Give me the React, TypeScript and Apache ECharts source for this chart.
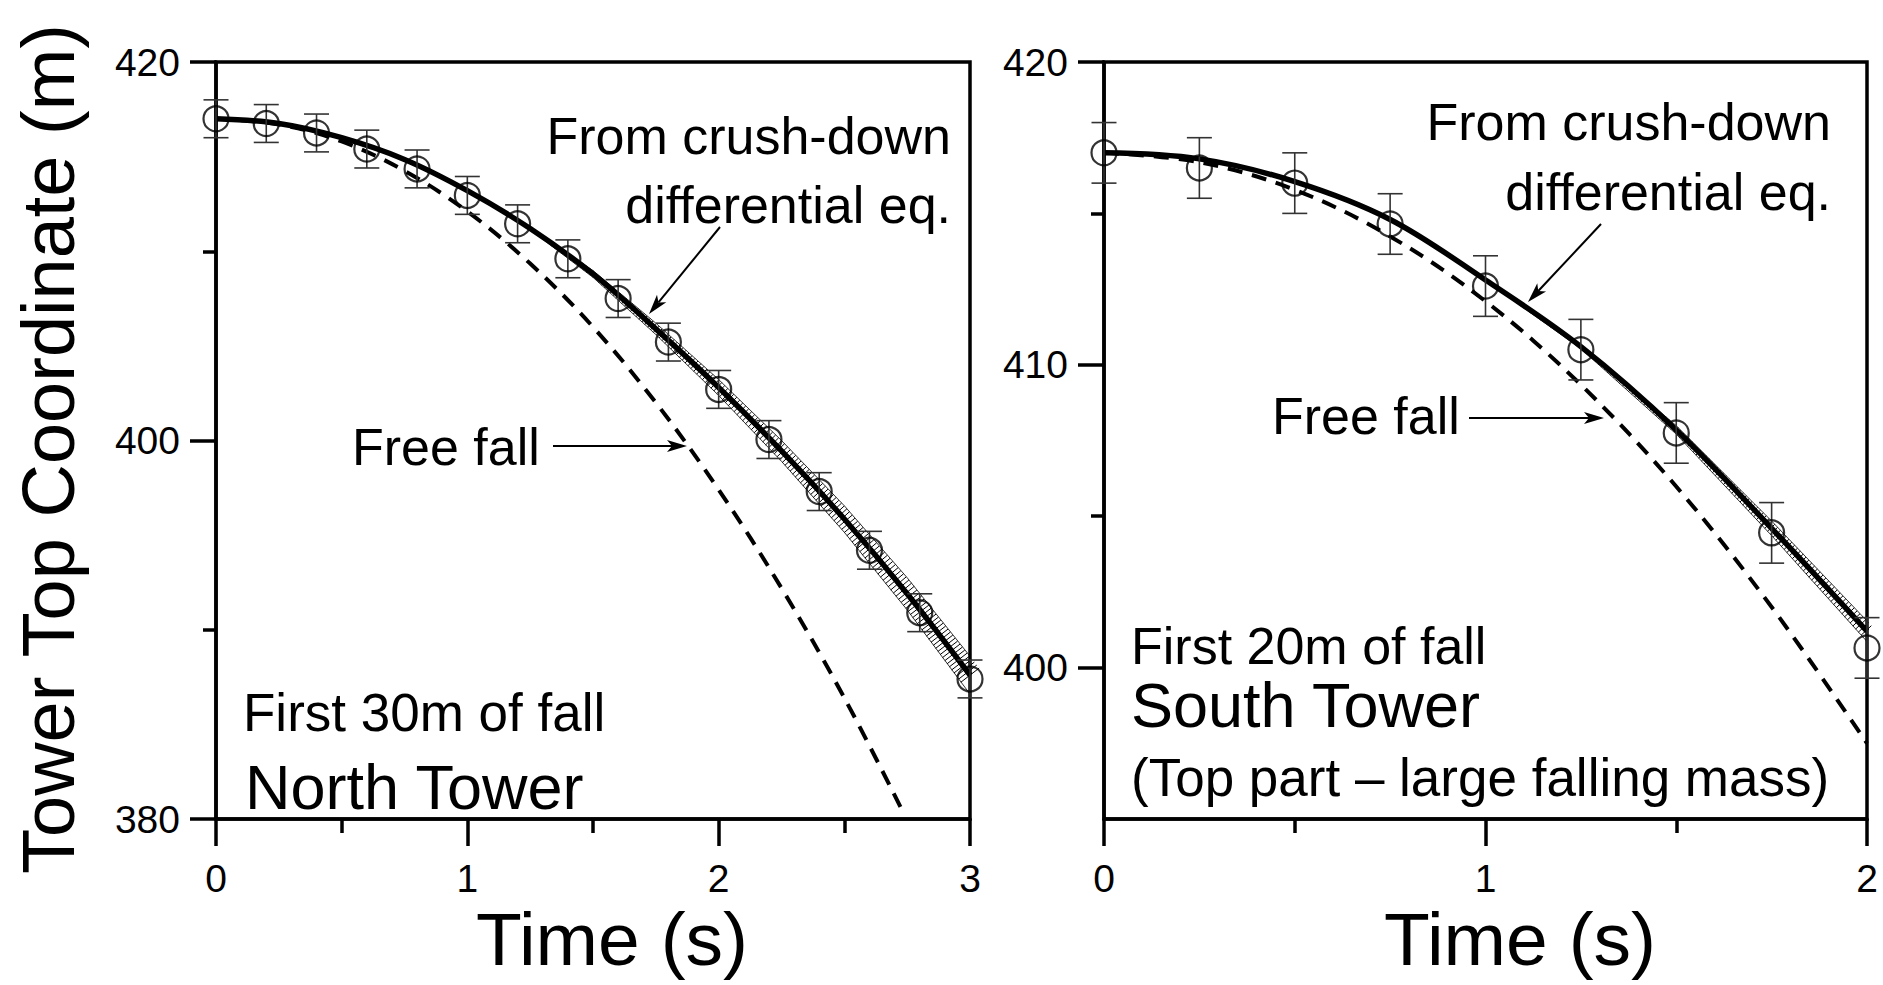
import React, { useEffect, useRef } from "react";
import * as echarts from "echarts";

const FONT = '"Liberation Sans", Arial, Helvetica, sans-serif';

// ---------------- North Tower (left panel) ----------------
const NORTH_T = [0, 0.2, 0.4, 0.6, 0.8, 1.0, 1.2, 1.4, 1.6, 1.8, 2.0, 2.2, 2.4, 2.6, 2.8, 3.0];
const NORTH_OBS = [417.0, 416.75, 416.25, 415.4, 414.35, 412.95, 411.45, 409.6, 407.5, 405.2, 402.7, 400.05, 397.3, 394.2, 390.9, 387.4];
const NORTH_ERR = [1, 1, 1, 1, 1, 1, 1, 1, 1, 1, 1, 1, 1, 1, 1, 1];
const NORTH_MODEL_T = [0, 0.25, 0.5, 0.75, 1.0, 1.25, 1.5, 1.75, 2.0, 2.25, 2.5, 2.75, 3.0];
const NORTH_MODEL = [417.0, 416.75, 416.0, 414.85, 413.2, 411.2, 408.8, 405.9, 402.8, 399.45, 395.85, 391.9, 387.6];
const NORTH_FREE_T = [0, 0.25, 0.5, 0.75, 1.0, 1.25, 1.5, 1.75, 2.0, 2.25, 2.5, 2.74];
const NORTH_FREE = [417.0, 416.7, 415.8, 414.25, 412.1, 409.35, 406.0, 402.0, 397.4, 392.2, 386.4, 380.2];
const NORTH_BAND_T = [1.25, 1.5, 1.75, 2.0, 2.25, 2.5, 2.75, 3.0];
const NORTH_BAND_LO = [411.14, 408.62, 405.6, 402.38, 398.9, 395.15, 391.05, 386.6];
const NORTH_BAND_HI = [411.26, 408.98, 406.2, 403.22, 400.0, 396.55, 392.75, 388.6];

// ---------------- South Tower (right panel) ----------------
const SOUTH_T = [0, 0.25, 0.5, 0.75, 1.0, 1.25, 1.5, 1.75, 2.0];
const SOUTH_OBS = [417.0, 416.5, 416.0, 414.65, 412.6, 410.5, 407.75, 404.45, 400.65];
const SOUTH_ERR = [1, 1, 1, 1, 1, 1, 1, 1, 1];
const SOUTH_MODEL_T = [0, 0.25, 0.5, 0.75, 1.0, 1.25, 1.5, 1.75, 2.0];
const SOUTH_MODEL = [417.0, 416.8, 416.05, 414.8, 412.8, 410.6, 407.85, 404.6, 401.2];
const SOUTH_FREE_T = [0, 0.25, 0.5, 0.75, 1.0, 1.25, 1.5, 1.75, 2.0];
const SOUTH_FREE = [417.0, 416.69, 415.78, 414.24, 412.1, 409.34, 405.98, 402.0, 397.5];
const SOUTH_BAND_T = [1.0, 1.25, 1.5, 1.75, 2.0];
const SOUTH_BAND_LO = [412.78, 410.53, 407.71, 404.36, 400.86];
const SOUTH_BAND_HI = [412.82, 410.67, 407.99, 404.84, 401.54];

// axis ranges and ticks
const NORTH_X_RANGE = [0, 3];
const NORTH_Y_RANGE = [380, 420];
const SOUTH_X_RANGE = [0, 2];
const SOUTH_Y_RANGE = [395, 420];
const SOUTH_Y_MAJOR = [400, 410, 420];
const SOUTH_Y_MINOR = [405, 415];

const zip = (a: number[], b: number[]) => a.map((v, i) => [v, b[i]]);

function arrow(x1: number, y1: number, x2: number, y2: number) {
  const ang = Math.atan2(y2 - y1, x2 - x1);
  const L = 20;
  const W = 6;
  const bx = x2 - L * Math.cos(ang);
  const by = y2 - L * Math.sin(ang);
  const px = -Math.sin(ang) * W;
  const py = Math.cos(ang) * W;
  const nx = x2 - (L - 5) * Math.cos(ang);
  const ny = y2 - (L - 5) * Math.sin(ang);
  return [
    { type: "line", silent: true, shape: { x1, y1, x2: nx, y2: ny }, style: { stroke: "#000", lineWidth: 2 } },
    {
      type: "polygon",
      silent: true,
      shape: { points: [[x2, y2], [bx + px, by + py], [nx, ny], [bx - px, by - py]] },
      style: { fill: "#000" },
    },
  ];
}

function txt(text: string, x: number, y: number, size: number, align: string, extra: any = {}, lineHeight?: number) {
  return {
    type: "text",
    x,
    y,
    silent: true,
    ...extra,
    style: {
      text,
      fontSize: size,
      fontFamily: FONT,
      fill: "#000",
      align,
      verticalAlign: "middle",
      textAlign: align,
      textVerticalAlign: "middle",
      ...(lineHeight ? { lineHeight } : {}),
    },
  };
}

// hatched uncertainty band: outline polygon plus a "ladder" of short strokes across it
function bandRenderer(bandT: number[], bandLo: number[], bandHi: number[]) {
  return (params: any, api: any) => {
    if (params.dataIndex !== 0) return null;
    const n = bandT.length;
    const edgeAt = (u: number) => {
      let j = 0;
      while (j < n - 2 && u > bandT[j + 1]) j++;
      const f = (u - bandT[j]) / (bandT[j + 1] - bandT[j]);
      const lo = bandLo[j] + f * (bandLo[j + 1] - bandLo[j]);
      const hi = bandHi[j] + f * (bandHi[j + 1] - bandHi[j]);
      return [api.coord([u, lo]), api.coord([u, hi])];
    };
    const upper = bandT.map((t, i) => api.coord([t, bandHi[i]]));
    const lower = bandT.map((t, i) => api.coord([t, bandLo[i]])).reverse();
    const children: any[] = [
      {
        type: "polygon",
        shape: { points: upper.concat(lower) },
        style: { fill: "rgba(255,255,255,0.0)", stroke: "#000", lineWidth: 0.8 },
      },
    ];
    const t0 = bandT[0];
    const t1 = bandT[n - 1];
    const steps = 1500;
    const du = (t1 - t0) / steps;
    let acc = 0;
    let prev: number[] | null = null;
    const SPACING = 3.8;
    for (let k = 0; k <= steps; k++) {
      const u = t0 + k * du;
      const [pl, ph] = edgeAt(u);
      const c = [(pl[0] + ph[0]) / 2, (pl[1] + ph[1]) / 2];
      if (prev) acc += Math.hypot(c[0] - prev[0], c[1] - prev[1]);
      prev = c;
      if (k === 0 || acc >= SPACING) {
        acc = 0;
        const ua = Math.max(t0, u - du * 4);
        const ub = Math.min(t1, u + du * 4);
        const ea = edgeAt(ua);
        const eb = edgeAt(ub);
        const ca = [(ea[0][0] + ea[1][0]) / 2, (ea[0][1] + ea[1][1]) / 2];
        const cb = [(eb[0][0] + eb[1][0]) / 2, (eb[0][1] + eb[1][1]) / 2];
        let tx = cb[0] - ca[0];
        let ty = cb[1] - ca[1];
        const tl = Math.hypot(tx, ty) || 1;
        tx /= tl;
        ty /= tl;
        const hv = Math.abs(pl[1] - ph[1]) / 2;
        const hp = hv * Math.abs(tx);
        const nx = -ty;
        const ny = tx;
        children.push({
          type: "line",
          shape: { x1: c[0] - nx * hp, y1: c[1] - ny * hp, x2: c[0] + nx * hp, y2: c[1] + ny * hp },
          style: { stroke: "#000", lineWidth: 1 },
        });
      }
    }
    return { type: "group", children };
  };
}

function buildPanelSeries(
  axisIdx: number,
  obsT: number[],
  obs: number[],
  err: number[],
  modelT: number[],
  model: number[],
  freeT: number[],
  free: number[],
  bandT: number[],
  bandLo: number[],
  bandHi: number[]
) {
  return [
    {
      type: "custom",
      xAxisIndex: axisIdx,
      yAxisIndex: axisIdx,
      z: 1,
      silent: true,
      clip: false,
      data: bandT.map((t, i) => [t, bandLo[i], bandHi[i]]),
      encode: { x: 0, y: 1 },
      renderItem: bandRenderer(bandT, bandLo, bandHi),
    },
    {
      type: "line",
      xAxisIndex: axisIdx,
      yAxisIndex: axisIdx,
      z: 2,
      silent: true,
      showSymbol: false,
      smooth: 0.35,
      data: zip(freeT, free),
      lineStyle: { color: "#000", width: 4, type: [15, 10], cap: "butt" },
    },
    {
      type: "line",
      xAxisIndex: axisIdx,
      yAxisIndex: axisIdx,
      z: 3,
      silent: true,
      showSymbol: false,
      smooth: 0.35,
      data: zip(modelT, model),
      lineStyle: { color: "#000", width: 5.5 },
    },
    {
      type: "custom",
      xAxisIndex: axisIdx,
      yAxisIndex: axisIdx,
      z: 4,
      silent: true,
      clip: false,
      data: obsT.map((t, i) => [t, obs[i], err[i]]),
      encode: { x: 0, y: 1 },
      renderItem: (params: any, api: any) => {
        const x = api.value(0);
        const y = api.value(1);
        const e = api.value(2);
        const top = api.coord([x, y + e]);
        const bot = api.coord([x, y - e]);
        const hw = 12.5;
        const st = { stroke: "#333", lineWidth: 1.6 };
        return {
          type: "group",
          children: [
            { type: "line", shape: { x1: top[0], y1: top[1], x2: bot[0], y2: bot[1] }, style: st },
            { type: "line", shape: { x1: top[0] - hw, y1: top[1], x2: top[0] + hw, y2: top[1] }, style: st },
            { type: "line", shape: { x1: bot[0] - hw, y1: bot[1], x2: bot[0] + hw, y2: bot[1] }, style: st },
          ],
        };
      },
    },
    {
      type: "scatter",
      xAxisIndex: axisIdx,
      yAxisIndex: axisIdx,
      z: 5,
      silent: true,
      clip: false,
      symbol: "circle",
      symbolSize: 25,
      data: zip(obsT, obs),
      itemStyle: { color: "rgba(0,0,0,0)", borderColor: "#000", borderWidth: 2.2 },
    },
  ];
}

export default function App() {
  const ref = useRef<HTMLDivElement>(null);

  useEffect(() => {
    if (!ref.current) return;
    const chart = echarts.init(ref.current, undefined, { renderer: "svg" });

    const AX = 3.5;
    const axisLine = { show: true, onZero: false, lineStyle: { color: "#000", width: AX } };
    const tickStyle = { color: "#000", width: AX };
    const labelStyle = { fontSize: 39, color: "#000", fontFamily: FONT };

    const xAxisCommon = (gi: number, range: number[]) => ({
      type: "value",
      gridIndex: gi,
      min: range[0],
      max: range[1],
      interval: 1,
      axisLine,
      axisTick: { show: true, length: 27, lineStyle: tickStyle },
      minorTick: { show: true, splitNumber: 2, length: 14, lineStyle: tickStyle },
      axisLabel: { ...labelStyle, margin: 41, lineHeight: 36 },
      splitLine: { show: false },
      minorSplitLine: { show: false },
    });

    const option: any = {
      animation: false,
      backgroundColor: "#fff",
      textStyle: { fontFamily: FONT },
      grid: [
        { left: 216, top: 62, width: 754, height: 757, show: true, borderColor: "#000", borderWidth: AX, backgroundColor: "transparent" },
        { left: 1104, top: 62, width: 763, height: 757, show: true, borderColor: "#000", borderWidth: AX, backgroundColor: "transparent" },
      ],
      xAxis: [xAxisCommon(0, NORTH_X_RANGE), xAxisCommon(1, SOUTH_X_RANGE)],
      yAxis: [
        {
          type: "value",
          gridIndex: 0,
          min: NORTH_Y_RANGE[0],
          max: NORTH_Y_RANGE[1],
          interval: 20,
          axisLine,
          axisTick: { show: true, length: 26, lineStyle: tickStyle },
          minorTick: { show: true, splitNumber: 2, length: 13, lineStyle: tickStyle },
          axisLabel: { ...labelStyle, margin: 36 },
          splitLine: { show: false },
          minorSplitLine: { show: false },
        },
        {
          type: "value",
          gridIndex: 1,
          min: SOUTH_Y_RANGE[0],
          max: SOUTH_Y_RANGE[1],
          interval: 5,
          axisLine,
          axisTick: { show: true, length: 26, lineStyle: tickStyle, customValues: SOUTH_Y_MAJOR },
          axisLabel: { ...labelStyle, margin: 36, customValues: SOUTH_Y_MAJOR },
          splitLine: { show: false },
        },
        {
          type: "value",
          gridIndex: 1,
          position: "left",
          min: SOUTH_Y_RANGE[0],
          max: SOUTH_Y_RANGE[1],
          interval: 5,
          axisLine: { show: false },
          axisTick: { show: true, length: 13, lineStyle: tickStyle, customValues: SOUTH_Y_MINOR },
          axisLabel: { show: false },
          splitLine: { show: false },
        },
      ],
      series: [
        ...buildPanelSeries(0, NORTH_T, NORTH_OBS, NORTH_ERR, NORTH_MODEL_T, NORTH_MODEL, NORTH_FREE_T, NORTH_FREE, NORTH_BAND_T, NORTH_BAND_LO, NORTH_BAND_HI),
        ...buildPanelSeries(1, SOUTH_T, SOUTH_OBS, SOUTH_ERR, SOUTH_MODEL_T, SOUTH_MODEL, SOUTH_FREE_T, SOUTH_FREE, SOUTH_BAND_T, SOUTH_BAND_LO, SOUTH_BAND_HI),
      ],
      graphic: [
        txt("Tower Top Coordinate (m)", 48, 449, 74, "center", { rotation: Math.PI / 2 }),
        txt("Time (s)", 612, 939, 75, "center", {}, 64),
        txt("Time (s)", 1520, 939, 75, "center", {}, 64),
        // left panel annotations
        txt("From crush-down", 951, 136, 52, "right"),
        txt("differential eq.", 951, 205, 52, "right"),
        txt("Free fall", 352, 447, 52, "left"),
        txt("First 30m of fall", 243, 712, 53, "left"),
        txt("North Tower", 245, 787, 63, "left"),
        ...arrow(720, 227, 649, 314),
        ...arrow(553, 446, 687, 446),
        // right panel annotations
        txt("From crush-down", 1831, 122, 52, "right"),
        txt("differential eq.", 1831, 192, 52, "right"),
        txt("Free fall", 1272, 416, 52, "left"),
        txt("First 20m of fall", 1131, 646, 52, "left"),
        txt("South Tower", 1131, 705, 63, "left"),
        txt("(Top part \u2013 large falling mass)", 1131, 777, 53, "left"),
        ...arrow(1601, 224, 1528, 302),
        ...arrow(1469, 418, 1604, 418),
      ],
    };

    chart.setOption(option);
    return () => chart.dispose();
  }, []);

  return (
    <div
      ref={ref}
      style={{ position: "fixed", left: 0, top: 0, width: 1883, height: 985, background: "#fff" }}
    />
  );
}
